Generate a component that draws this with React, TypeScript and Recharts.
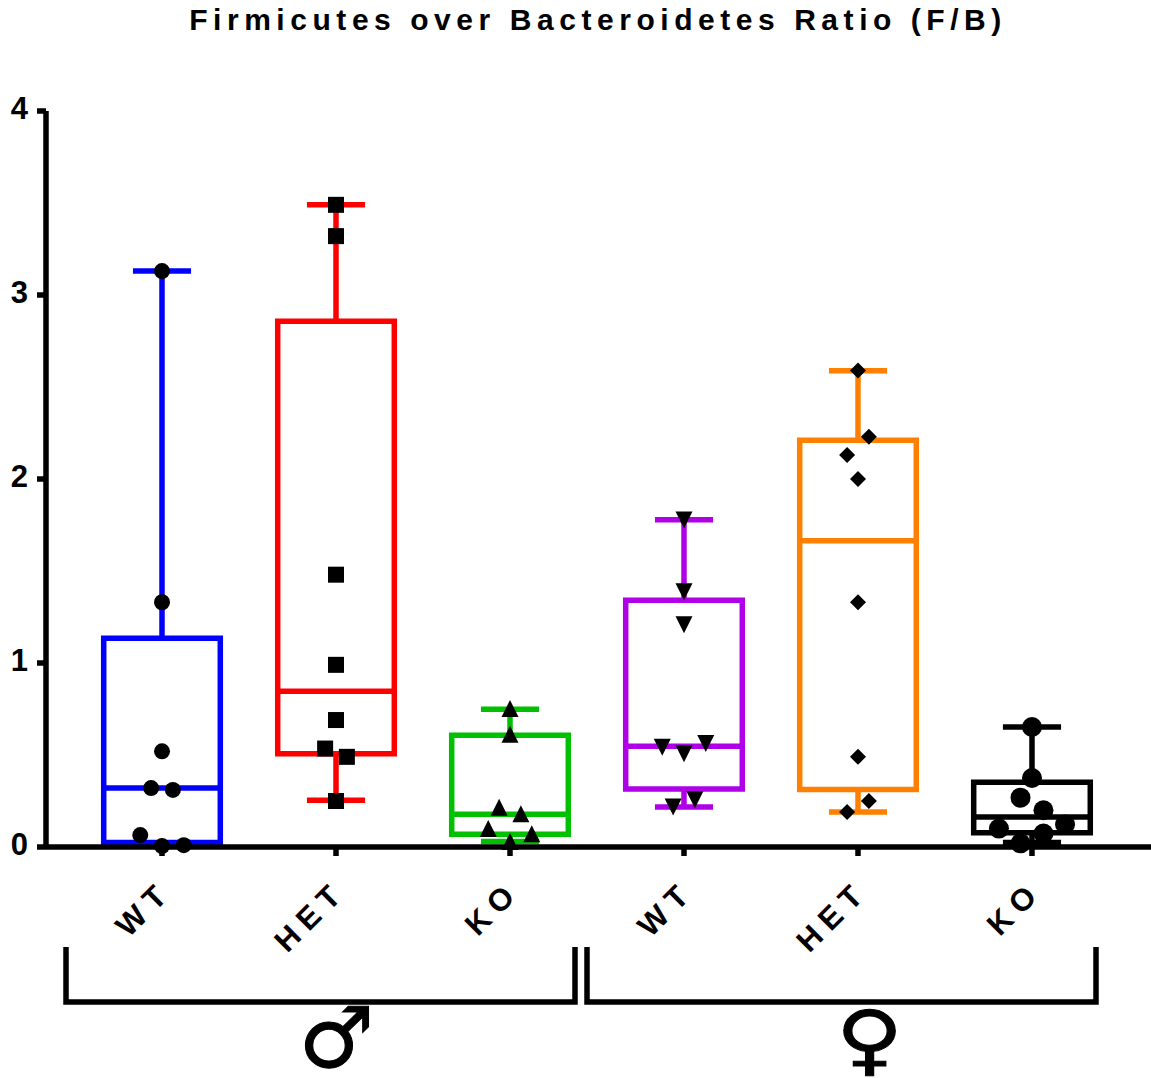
import {
  ComposedChart,
  Scatter,
  XAxis,
  YAxis,
  ReferenceArea,
  ReferenceLine,
} from 'recharts';

const categories = ['WT', 'HET', 'KO', 'WT', 'HET', 'KO'];
const positions = [1, 2, 3, 4, 5, 6];
const yTicks = [0, 1, 2, 3, 4];
const colors = ['#0000ff', '#ff0000', '#00c000', '#b000e8', '#ff8000', '#000000'];

// box summaries, one entry per group
const whiskerLow = [0.005, 0.254, 0.03, 0.217, 0.19, 0.024];
const quartile1 = [0.024, 0.507, 0.069, 0.315, 0.313, 0.078];
const medians = [0.32, 0.846, 0.178, 0.547, 1.664, 0.163];
const quartile3 = [1.134, 2.857, 0.607, 1.341, 2.21, 0.352];
const whiskerHigh = [3.13, 3.49, 0.748, 1.778, 2.588, 0.652];

// individual animals: [x position, F/B ratio]
const maleWt = [[1, 3.13], [1, 1.33], [1, 0.52], [0.9375, 0.32], [1.0625, 0.31], [0.875, 0.065], [1, 0.005], [1.125, 0.01]];
const maleHet = [[2, 3.49], [2, 3.32], [2, 1.48], [2, 0.99], [2, 0.69], [1.9375, 0.535], [2.0625, 0.49], [2, 0.25]];
const maleKo = [[3, 0.75], [3, 0.61], [2.9375, 0.213], [3.0625, 0.178], [2.875, 0.098], [3.125, 0.069], [3, 0.027]];
const femaleWt = [[4, 1.78], [4, 1.39], [4, 1.21], [3.875, 0.545], [4, 0.51], [4.125, 0.565], [4.0625, 0.26], [3.9375, 0.22]];
const femaleHet = [[5, 2.59], [5.0625, 2.23], [4.9375, 2.13], [5, 2.0], [5, 1.33], [5, 0.49], [5.0625, 0.25], [4.9375, 0.19]];
const femaleKo = [[6, 0.652], [6, 0.375], [5.934, 0.268], [6.066, 0.2], [5.81, 0.1], [6.19, 0.122], [6.066, 0.073], [5.934, 0.02]];

const toPoints = (rows: number[][]) => rows.map(([x, y]) => ({ x, y }));

const BOX_HALF = 0.335;
const CAP_HALF = 0.167;
const STROKE = 5.5;
const FONT = '"Liberation Sans", Arial, sans-serif';

const Circle = ({ cx, cy }: any) => <circle cx={cx} cy={cy} r={8} fill="#000" />;
const BigCircle = ({ cx, cy }: any) => <circle cx={cx} cy={cy} r={10} fill="#000" />;
const Square = ({ cx, cy }: any) => <rect x={cx - 8} y={cy - 8} width={16} height={16} fill="#000" />;
const TriangleUp = ({ cx, cy }: any) => (
  <polygon points={`${cx},${cy - 9} ${cx + 8.5},${cy + 8} ${cx - 8.5},${cy + 8}`} fill="#000" />
);
const TriangleDown = ({ cx, cy }: any) => (
  <polygon points={`${cx},${cy + 9} ${cx + 8.5},${cy - 8} ${cx - 8.5},${cy - 8}`} fill="#000" />
);
const Diamond = ({ cx, cy }: any) => (
  <polygon points={`${cx},${cy - 8} ${cx + 8},${cy} ${cx},${cy + 8} ${cx - 8},${cy}`} fill="#000" />
);

const CategoryTick = ({ x, y, payload }: any) => {
  const px = x + 12;
  const py = y + 35;
  return (
    <text
      x={px}
      y={py}
      textAnchor="end"
      transform={`rotate(-45 ${px} ${py})`}
      fontFamily={FONT}
      fontWeight="bold"
      fontSize={31}
      letterSpacing={8}
      fill="#000"
    >
      {categories[positions.indexOf(payload.value)]}
    </text>
  );
};

const ValueTick = ({ x, y, payload }: any) => (
  <text x={x - 7} y={y + 8} textAnchor="end" fontFamily={FONT} fontWeight="bold" fontSize={31} fill="#000">
    {payload.value}
  </text>
);

const groups = [
  { rows: maleWt, shape: Circle },
  { rows: maleHet, shape: Square },
  { rows: maleKo, shape: TriangleUp },
  { rows: femaleWt, shape: TriangleDown },
  { rows: femaleHet, shape: Diamond },
  { rows: femaleKo, shape: BigCircle },
];

const App = () => {
  return (
    <div style={{ position: 'absolute', left: 0, top: 0, width: 1151, height: 1078, background: '#fff' }}>
      <div
        style={{
          position: 'absolute',
          left: 0,
          top: 3,
          width: 1196,
          textAlign: 'center',
          fontFamily: FONT,
          fontWeight: 'bold',
          fontSize: 30,
          letterSpacing: 5.55,
          whiteSpace: 'nowrap',
        }}
      >
        Firmicutes over Bacteroidetes Ratio (F/B)
      </div>
      <ComposedChart
        width={1151}
        height={1078}
        margin={{ top: 111, right: 0, bottom: 0, left: 0 }}
        style={{ position: 'absolute', left: 0, top: 0 }}
      >
        <XAxis
          type="number"
          dataKey="x"
          domain={[0.3333, 6.684]}
          ticks={positions}
          allowDataOverflow
          height={231}
          tick={<CategoryTick />}
          tickSize={9}
          interval={0}
          axisLine={{ stroke: '#000', strokeWidth: STROKE }}
          tickLine={{ stroke: '#000', strokeWidth: STROKE }}
        />
        <YAxis
          type="number"
          domain={[0, 4]}
          ticks={yTicks}
          width={46}
          tick={<ValueTick />}
          tickSize={9}
          interval={0}
          axisLine={{ stroke: '#000', strokeWidth: STROKE }}
          tickLine={{ stroke: '#000', strokeWidth: STROKE }}
        />
        {positions.map((pos, i) => [
          <ReferenceLine
            key={`whisker-low-${i}`}
            segment={[{ x: pos, y: whiskerLow[i] }, { x: pos, y: quartile1[i] }]}
            stroke={colors[i]}
            strokeWidth={STROKE}
          />,
          <ReferenceLine
            key={`whisker-high-${i}`}
            segment={[{ x: pos, y: quartile3[i] }, { x: pos, y: whiskerHigh[i] }]}
            stroke={colors[i]}
            strokeWidth={STROKE}
          />,
          <ReferenceLine
            key={`cap-low-${i}`}
            segment={[{ x: pos - CAP_HALF, y: whiskerLow[i] }, { x: pos + CAP_HALF, y: whiskerLow[i] }]}
            stroke={colors[i]}
            strokeWidth={STROKE}
          />,
          <ReferenceLine
            key={`cap-high-${i}`}
            segment={[{ x: pos - CAP_HALF, y: whiskerHigh[i] }, { x: pos + CAP_HALF, y: whiskerHigh[i] }]}
            stroke={colors[i]}
            strokeWidth={STROKE}
          />,
          <ReferenceArea
            key={`box-${i}`}
            x1={pos - BOX_HALF}
            x2={pos + BOX_HALF}
            y1={quartile1[i]}
            y2={quartile3[i]}
            fill="none"
            stroke={colors[i]}
            strokeWidth={STROKE}
          />,
          <ReferenceLine
            key={`median-${i}`}
            segment={[{ x: pos - BOX_HALF, y: medians[i] }, { x: pos + BOX_HALF, y: medians[i] }]}
            stroke={colors[i]}
            strokeWidth={STROKE}
          />,
        ])}
        {groups.map((g, i) => (
          <Scatter
            key={i}
            data={toPoints(g.rows)}
            dataKey="y"
            shape={g.shape}
            isAnimationActive={false}
          />
        ))}
      </ComposedChart>
      <svg width={1151} height={1078} style={{ position: 'absolute', left: 0, top: 0, pointerEvents: 'none' }}>
        <path d="M66 947 V1002 H575 V947" fill="none" stroke="#000" strokeWidth={5.5} />
        <path d="M587 947 V1002 H1096 V947" fill="none" stroke="#000" strokeWidth={5.5} />
        <text x={336.5} y={1067} textAnchor="middle" fontFamily="DejaVu Sans" fontSize={84} stroke="#000" strokeWidth={1} fill="#000">♂</text>
        <text
          textAnchor="middle"
          fontFamily="DejaVu Sans"
          fontSize={80}
          stroke="#000"
          strokeWidth={1}
          fill="#000"
          transform="translate(869.5 1066) scale(1.15 0.97)"
        >
          ♀
        </text>
      </svg>
    </div>
  );
};

export default App;
